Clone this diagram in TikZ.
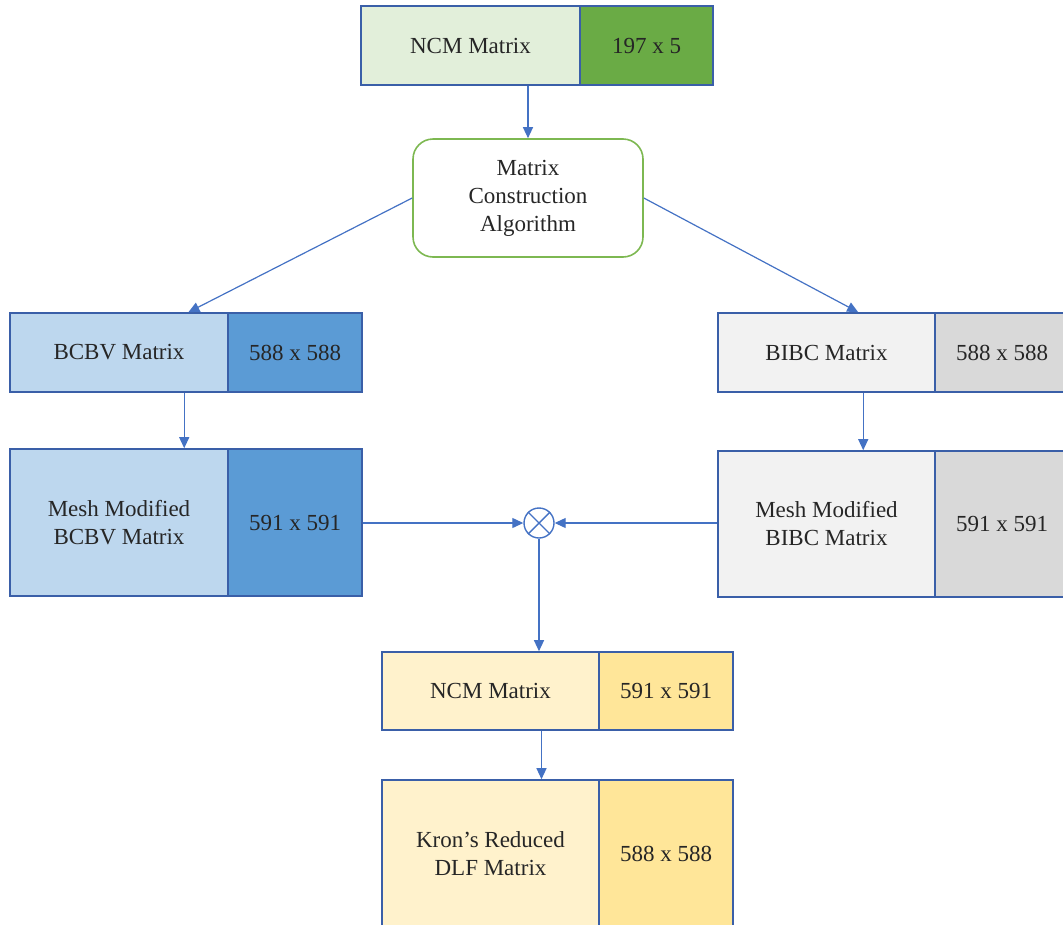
\documentclass[tikz,border=0pt]{standalone}
\usepackage{fontspec}
\setmainfont{LiberationSerif}[Extension=.ttf,UprightFont=*-Regular,BoldFont=*-Bold]
\usetikzlibrary{arrows.meta,calc}
\definecolor{bord}{HTML}{3A5FA8}
\definecolor{arrc}{HTML}{4472C4}
\definecolor{gL}{HTML}{E2EFDA}
\definecolor{gR}{HTML}{6AAB45}
\definecolor{bL}{HTML}{BDD7EE}
\definecolor{bR}{HTML}{5B9BD5}
\definecolor{wL}{HTML}{F2F2F2}
\definecolor{wR}{HTML}{D9D9D9}
\definecolor{yL}{HTML}{FFF2CC}
\definecolor{yR}{HTML}{FFE699}
\definecolor{algb}{HTML}{7DB851}
\begin{document}
\begin{tikzpicture}[x=1pt,y=-1pt,
  cell/.style={draw=bord,line width=1.6pt,rectangle,inner sep=0pt,align=center,
    font=\fontsize{23}{28}\selectfont,text=black!85},
  arr/.style={draw=arrc,line width=1.2pt,-{Triangle[length=11pt,width=10pt]}},
  lin/.style={draw=arrc,line width=1.2pt}]
\useasboundingbox (0,0) rectangle (1063,924);
\begin{scope}
\clip (0,0) rectangle (1063,924);
% top
\node[cell,fill=gL,minimum width=219pt,minimum height=79pt] (ncmL) at (470.5,45.5) {NCM Matrix};
\node[cell,fill=gR,minimum width=133pt,minimum height=79pt] (ncmR) at (646.5,45.5) {197 x 5};
% algorithm
\node[draw=algb,line width=1.6pt,rounded corners=20pt,fill=white,minimum width=230pt,minimum height=118pt,
  align=center,font=\fontsize{23}{28}\selectfont,text=black!85] (alg) at (528,198) {Matrix\\Construction\\Algorithm};
% BCBV
\node[cell,fill=bL,minimum width=218pt,minimum height=79pt] (bcbvL) at (119,352.5) {BCBV Matrix};
\node[cell,fill=bR,minimum width=134pt,minimum height=79pt] (bcbvR) at (295,352.5) {588 x 588};
\node[cell,fill=bL,minimum width=218pt,minimum height=147pt] (mbcbvL) at (119,522.5) {Mesh Modified\\BCBV Matrix};
\node[cell,fill=bR,minimum width=134pt,minimum height=147pt] (mbcbvR) at (295,522.5) {591 x 591};
% BIBC
\node[cell,fill=wL,minimum width=217pt,minimum height=79pt] (bibcL) at (826.5,352.5) {BIBC Matrix};
\node[cell,fill=wR,minimum width=134pt,minimum height=79pt] (bibcR) at (1002,352.5) {588 x 588};
\node[cell,fill=wL,minimum width=217pt,minimum height=146pt] (mbibcL) at (826.5,524) {Mesh Modified\\BIBC Matrix};
\node[cell,fill=wR,minimum width=134pt,minimum height=146pt] (mbibcR) at (1002,524) {591 x 591};
% otimes
\node[draw=arrc,line width=1.4pt,circle,minimum size=30pt,inner sep=0pt] (ot) at (539,523) {};
\draw[arrc,line width=1.4pt] (ot.north west) -- (ot.south east) (ot.north east) -- (ot.south west);
% NCM 591
\node[cell,fill=yL,minimum width=217pt,minimum height=78pt] (ncm2L) at (490.5,691) {NCM Matrix};
\node[cell,fill=yR,minimum width=134pt,minimum height=78pt] (ncm2R) at (666,691) {591 x 591};
\node[cell,fill=yL,minimum width=217pt,minimum height=147pt] (kronL) at (490.5,853.5) {Kron’s Reduced\\DLF Matrix};
\node[cell,fill=yR,minimum width=134pt,minimum height=147pt] (kronR) at (666,853.5) {588 x 588};
% connectors
\draw[arr] (alg.north |- ncmL.south) -- (alg.north);
\draw[arr] (alg.west) -- ($(bcbvL.north west)!0.816!(bcbvL.north east)$);
\draw[arr] (alg.east) -- ($(bibcL.north west)!0.645!(bibcL.north east)$);
\draw[arr] ($(bcbvL.south west)!0.797!(bcbvL.south east)$) coordinate (c1) -- (c1 |- mbcbvL.north);
\draw[arr] ($(bibcL.south west)!0.668!(bibcL.south east)$) coordinate (c2) -- (c2 |- mbibcL.north);
\draw[arr] (mbcbvR.east |- ot.west) -- (ot.west);
\draw[arr] (mbibcL.west |- ot.east) -- (ot.east);
\draw[arr] (ot.south) -- (ot.south |- ncm2L.north);
\draw[arr] ($(ncm2L.south)+(51,0)$) coordinate (c3) -- (c3 |- kronL.north);
\end{scope}
\end{tikzpicture}
\end{document}
